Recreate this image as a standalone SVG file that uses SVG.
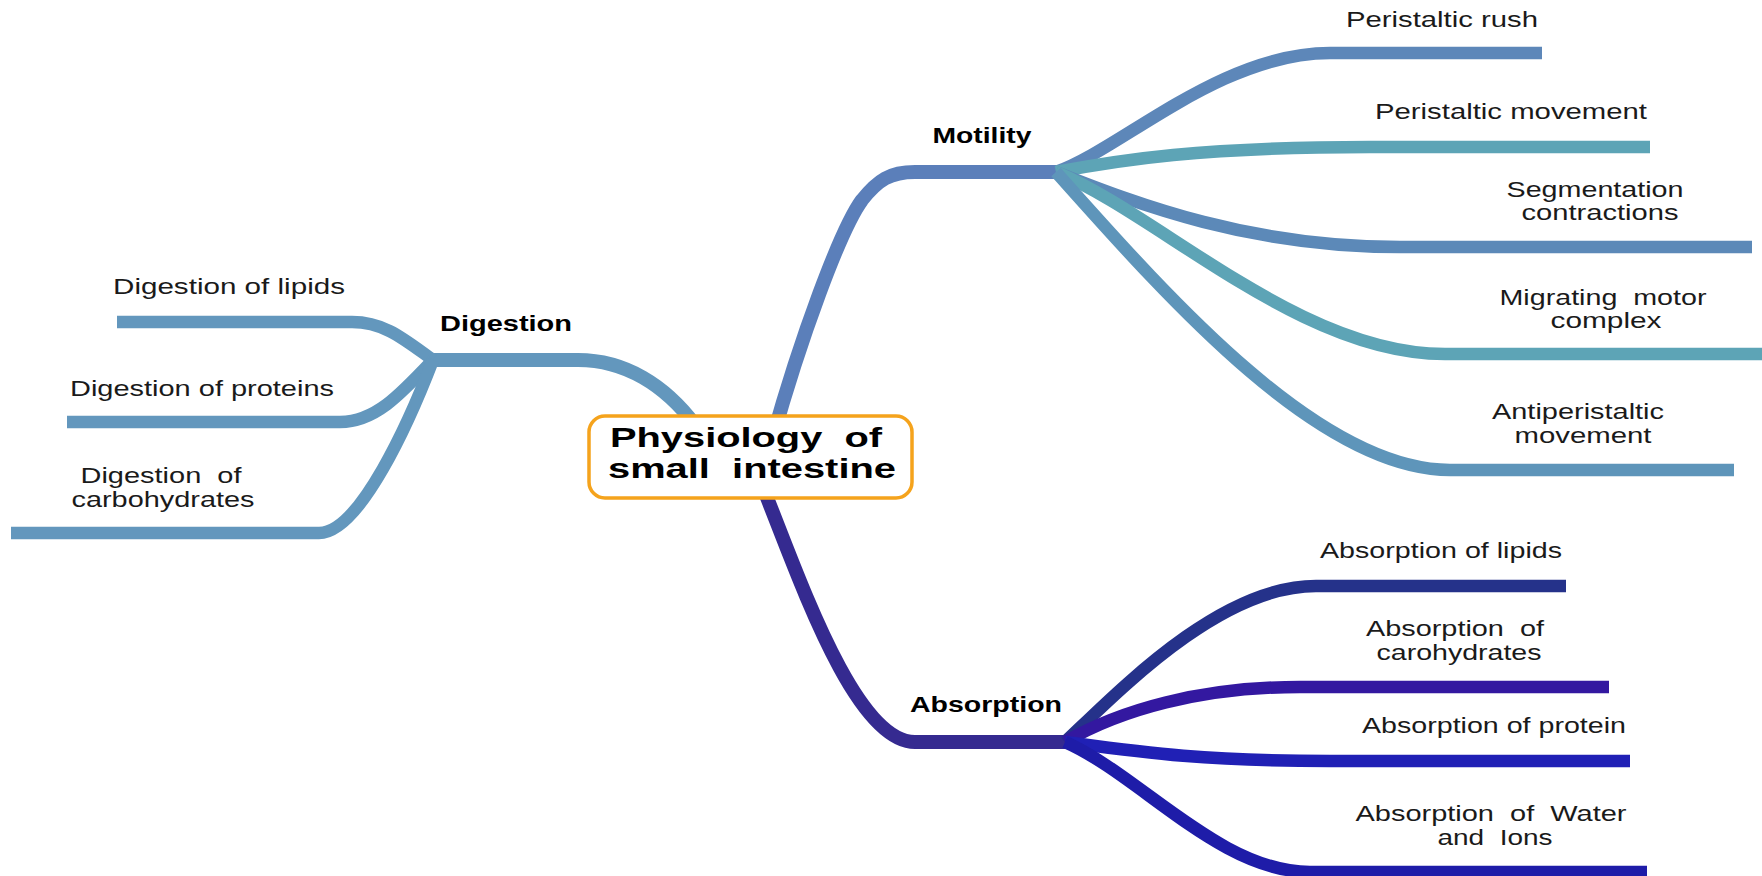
<svg xmlns="http://www.w3.org/2000/svg" width="1762" height="876" viewBox="0 0 1762 876" xml:space="preserve">
<style>
.c{fill:none;stroke-linecap:butt;stroke-linejoin:round}
.t{stroke-width:14}
.b{stroke-width:12.5}
text{white-space:pre}
.lbl{font-family:"Liberation Sans",Arial,sans-serif;font-size:22px;fill:#1a1a1a;text-anchor:middle}
.bold{font-family:"Liberation Sans",Arial,sans-serif;font-size:22px;font-weight:bold;fill:#000;text-anchor:middle}
.ctr{font-family:"Liberation Sans",Arial,sans-serif;font-size:28px;font-weight:bold;fill:#000;text-anchor:middle}
</style>
<rect width="1762" height="876" fill="#fff"/>
<g id="connectors">
  <path class="c t" stroke="#6397BD" d="M695,425 C665,385 625,360 578,360 L433,360"/>
  <path class="c b" stroke="#6397BD" d="M117,322 L352,322 C385,322 405,340 433,360"/>
  <path class="c b" stroke="#6397BD" d="M67,422 L340,422 C375,422 400,395 433,360"/>
  <path class="c b" stroke="#6397BD" d="M11,533 L319,533 C360,533 410,420 433,360"/>
  <path class="c t" stroke="#5B7FBA" d="M772,440 C800,340 840,230 862,200 C878,180 890,172 915,172 L1056,172"/>
  <path class="c b" stroke="#5D87B9" d="M1056,172 C1120,150 1220,53 1330,53 L1542,53"/>
  <path class="c b" stroke="#5DA4B6" d="M1056,172 C1120,160 1200,147 1370,147 L1650,147"/>
  <path class="c b" stroke="#5C89B8" d="M1056,172 C1140,205 1250,247 1400,247 L1752,247"/>
  <path class="c b" stroke="#5DA4B6" d="M1056,172 C1160,215 1300,354 1445,354 L1762,354"/>
  <path class="c b" stroke="#5E95BA" d="M1056,172 C1170,300 1320,470 1450,470 L1734,470"/>
  <path class="c t" stroke="#352A90" d="M764,490 C800,580 855,742 915,742 L1065,742"/>
  <path class="c b" stroke="#25328A" d="M1065,742 C1120,690 1220,586 1316,586 L1566,586"/>
  <path class="c b" stroke="#3318A0" d="M1065,742 C1120,710 1200,687 1300,687 L1609,687"/>
  <path class="c b" stroke="#2020B5" d="M1065,742 C1140,752 1200,761 1330,761 L1630,761"/>
  <path class="c b" stroke="#1E1CA8" d="M1065,742 C1140,775 1220,872 1310,872 L1647,872"/>
</g>
<g id="root">
  <rect x="589" y="416" width="323" height="82" rx="16" fill="#fff" stroke="#F5A31C" stroke-width="3.5"/>
  <text class="ctr" x="746" y="447" textLength="272" lengthAdjust="spacingAndGlyphs">Physiology  of</text>
  <text class="ctr" x="752" y="478" textLength="288" lengthAdjust="spacingAndGlyphs">small  intestine</text>
</g>
<g id="digestion"><text class="bold" x="506" y="331" textLength="132" lengthAdjust="spacingAndGlyphs">Digestion</text></g>
<g id="dig-lipids"><text class="lbl" x="229" y="294" textLength="232" lengthAdjust="spacingAndGlyphs">Digestion of lipids</text></g>
<g id="dig-proteins"><text class="lbl" x="202" y="396" textLength="264" lengthAdjust="spacingAndGlyphs">Digestion of proteins</text></g>
<g id="dig-carbs">
  <text class="lbl" x="161" y="483" textLength="161" lengthAdjust="spacingAndGlyphs">Digestion  of</text>
  <text class="lbl" x="163" y="507" textLength="183" lengthAdjust="spacingAndGlyphs">carbohydrates</text>
</g>
<g id="motility"><text class="bold" x="982" y="143" textLength="99" lengthAdjust="spacingAndGlyphs">Motility</text></g>
<g id="mot-rush"><text class="lbl" x="1442" y="27" textLength="192" lengthAdjust="spacingAndGlyphs">Peristaltic rush</text></g>
<g id="mot-peri"><text class="lbl" x="1511" y="119" textLength="272" lengthAdjust="spacingAndGlyphs">Peristaltic movement</text></g>
<g id="mot-seg">
  <text class="lbl" x="1595" y="197" textLength="177" lengthAdjust="spacingAndGlyphs">Segmentation</text>
  <text class="lbl" x="1600" y="220" textLength="157" lengthAdjust="spacingAndGlyphs">contractions</text>
</g>
<g id="mot-mmc">
  <text class="lbl" x="1603" y="305" textLength="207" lengthAdjust="spacingAndGlyphs">Migrating  motor</text>
  <text class="lbl" x="1606" y="328" textLength="111" lengthAdjust="spacingAndGlyphs">complex</text>
</g>
<g id="mot-anti">
  <text class="lbl" x="1578" y="419" textLength="172" lengthAdjust="spacingAndGlyphs">Antiperistaltic</text>
  <text class="lbl" x="1583" y="443" textLength="137" lengthAdjust="spacingAndGlyphs">movement</text>
</g>
<g id="absorption"><text class="bold" x="986" y="712" textLength="152" lengthAdjust="spacingAndGlyphs">Absorption</text></g>
<g id="abs-lipids"><text class="lbl" x="1441" y="558" textLength="242" lengthAdjust="spacingAndGlyphs">Absorption of lipids</text></g>
<g id="abs-carbs">
  <text class="lbl" x="1455" y="636" textLength="178" lengthAdjust="spacingAndGlyphs">Absorption  of</text>
  <text class="lbl" x="1459" y="660" textLength="165" lengthAdjust="spacingAndGlyphs">carohydrates</text>
</g>
<g id="abs-protein"><text class="lbl" x="1494" y="733" textLength="264" lengthAdjust="spacingAndGlyphs">Absorption of protein</text></g>
<g id="abs-water">
  <text class="lbl" x="1491" y="821" textLength="271" lengthAdjust="spacingAndGlyphs">Absorption  of  Water</text>
  <text class="lbl" x="1495" y="845" textLength="115" lengthAdjust="spacingAndGlyphs">and  Ions</text>
</g>
</svg>
